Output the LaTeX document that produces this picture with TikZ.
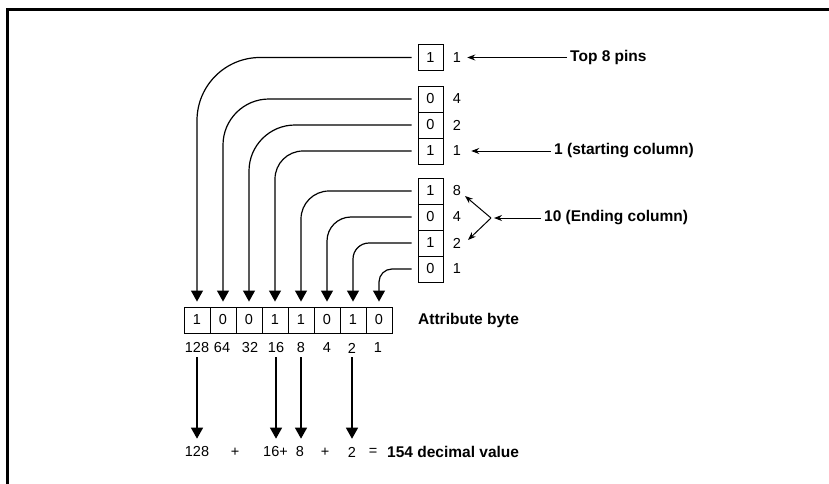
\documentclass[tikz,border=0pt]{standalone}
\usepackage{fontspec}
\setmainfont{Liberation Sans}
\usetikzlibrary{arrows.meta}
\begin{document}
\begin{tikzpicture}[x=1pt,y=-1pt,
  bit/.style={draw,line width=0.9pt,minimum width=25pt,minimum height=26pt,inner sep=0pt,font=\fontsize{14.5}{16}\selectfont},
  num/.style={inner sep=0pt,font=\fontsize{14.5}{16}\selectfont},
  lbl/.style={inner sep=0pt,anchor=west,font=\fontsize{15.5}{17}\selectfont\bfseries},
  conn/.style={line width=1.2pt,-{Triangle[width=12pt,length=11pt]}},
  down/.style={line width=1.3pt,-{Triangle[width=12pt,length=11pt]},shorten <=4pt,shorten >=8pt},
  ptr/.style={line width=1pt,-{Stealth[width=6pt,length=8pt]}}]
\useasboundingbox (0,0) rectangle (829,484);
% frame
\draw[line width=3pt] (7,484) -- (7,10) -- (829,10);

% pin boxes
\node[bit] (t1) at (430.5,57.5) {1};
\node[bit] (s4) at (430.5,99) {0};
\node[bit] (s2) at (430.5,125) {0};
\node[bit] (s1) at (430.5,151) {1};
\node[bit] (e8) at (430.5,191) {1};
\node[bit] (e4) at (430.5,217) {0};
\node[bit] (e2) at (430.5,243) {1};
\node[bit] (e1) at (430.5,269) {0};
% weights
\node[num] (nt1) at (457,57.5) {1};
\node[num] (ns4) at (457,99) {4};
\node[num] (ns2) at (457,125) {2};
\node[num] (ns1) at (457,151) {1};
\node[num] (ne8) at (457,191) {8};
\node[num] (ne4) at (457,217) {4};
\node[num] (ne2) at (457,243) {2};
\node[num] (ne1) at (457,269) {1};

% attribute byte
\foreach \v [count=\i from 0] in {1,0,0,1,1,0,1,0}
  \node[bit,minimum width=26pt] (b\i) at (197+26*\i,320) {\v};
\node[lbl] (attr) at (418,320) {Attribute byte};

% connectors
\draw[conn,rounded corners=63pt] ([xshift=-6pt]t1.west) -| ([yshift=5pt]b0.north);
\draw[conn,rounded corners=46pt] ([xshift=-6pt]s4.west) -| ([yshift=5pt]b1.north);
\draw[conn,rounded corners=46pt] ([xshift=-6pt]s2.west) -| ([yshift=5pt]b2.north);
\draw[conn,rounded corners=28pt] ([xshift=-6pt]s1.west) -| ([yshift=5pt]b3.north);
\draw[conn,rounded corners=28pt] ([xshift=-6pt]e8.west) -| ([yshift=5pt]b4.north);
\draw[conn,rounded corners=24pt] ([xshift=-6pt]e4.west) -| ([yshift=5pt]b5.north);
\draw[conn,rounded corners=16pt] ([xshift=-6pt]e2.west) -| ([yshift=5pt]b6.north);
\draw[conn,rounded corners=13pt] ([xshift=-6pt]e1.west) -| ([yshift=5pt]b7.north);

% right labels
\node[lbl] (top8) at (570,57.5) {Top 8 pins};
\node[lbl] (start) at (554,151) {1 (starting column)};
\node[lbl] (endc) at (544,218) {10 (Ending column)};
\draw[ptr] ([xshift=-3pt]top8.west) -- ([xshift=6pt]nt1.east);
\draw[ptr] ([xshift=-3pt]start.west) -- ([xshift=10pt]ns1.east);
\coordinate (fork) at (491,218);
\coordinate (to8) at (465,196);
\coordinate (to2) at (468,240);
\draw[ptr] ([xshift=-3pt]endc.west) -- ([xshift=3pt]fork);
\draw[ptr] (fork) -- (to8);
\draw[ptr] (fork) -- (to2);

% weights under byte
\node[num] (w128) at (197,348) {128};
\node[num] (w64) at (222,348) {64};
\node[num] (w32) at (250,348) {32};
\node[num] (w16) at (276,348) {16};
\node[num] (w8) at (301,348) {8};
\node[num] (w4) at (327,348) {4};
\node[num] (w2) at (352,348) {2};
\node[num] (w1) at (378,348) {1};

% sum row
\node[num] (r128) at (197,452) {128};
\node[num] (rp1) at (235,452) {+};
\node[num] (r16) at (275.5,452) {16+};
\node[num] (r8) at (300,452) {8};
\node[num] (rp2) at (325,452) {+};
\node[num] (r2) at (352,452) {2};
\node[num] (req) at (373,452) {=};
\node[lbl] (res) at (387,452) {154 decimal value};

\draw[down] (w128.south) -- (w128.south |- r128.north);
\draw[down] (w16.south) -- (w16.south |- r16.north);
\draw[down] (w8.south) -- (w8.south |- r8.north);
\draw[down] (w2.south) -- (w2.south |- r2.north);
\end{tikzpicture}
\end{document}
